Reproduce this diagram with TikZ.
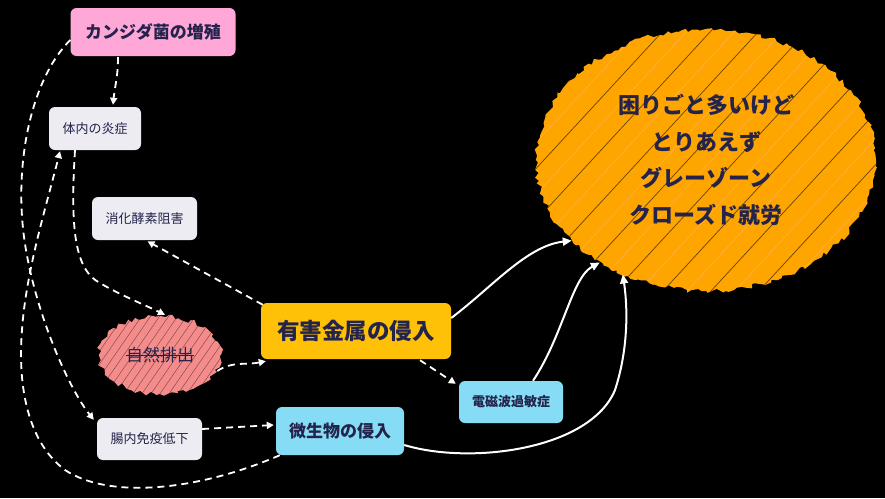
\documentclass[tikz,border=0pt]{standalone}
\usepackage{fontspec}
\setmainfont{Noto Sans CJK JP}
\usetikzlibrary{arrows.meta,shapes.geometric,decorations.pathmorphing,calc}
\definecolor{pinkbox}{RGB}{255,168,216}
\definecolor{greybox}{RGB}{236,236,242}
\definecolor{yellowbox}{RGB}{255,193,7}
\definecolor{bluebox}{RGB}{135,220,245}
\definecolor{orangeblob}{RGB}{255,165,0}
\definecolor{salmonblob}{RGB}{244,140,140}
\definecolor{navytext}{RGB}{35,35,75}
\newcommand\mystrike[1]{\setbox0\hbox{#1}\rlap{\raisebox{0.33em}{\rule{\wd0}{0.8pt}}}\box0}
\begin{document}
\begin{tikzpicture}[x=1pt,y=-1pt,
  box/.style={rounded corners=6pt, inner sep=0pt, align=center, text=navytext},
  pinkb/.style={box, fill=pinkbox},
  greyb/.style={box, fill=greybox},
  yellowb/.style={box, fill=yellowbox},
  blueb/.style={box, fill=bluebox},
  dl/.style={draw=white, line width=1.8pt, dash pattern=on 7pt off 5pt, -{Triangle[length=7pt,width=7pt]}},
  sl/.style={draw=white, line width=2pt, -{Triangle[length=9pt,width=8pt]}},
  blob/.style={ellipse, inner sep=0pt, align=center, text=navytext, decorate,
     decoration={random steps, segment length=4pt, amplitude=2.5pt}}
]
\fill[black] (0,0) rectangle (885,498);
\useasboundingbox (0,0) rectangle (885,498);

% nodes
\node[pinkb, minimum width=165, minimum height=48, font=\fontsize{17}{20}\selectfont\bfseries] (kan) at (153,32) {カンジダ菌の増殖};
\node[greyb, minimum width=92, minimum height=43, font=\fontsize{13}{16}\selectfont] (tin) at (95,128.5) {体内の炎症};
\node[greyb, minimum width=105, minimum height=43, font=\fontsize{13}{16}\selectfont] (sho) at (144.5,218.5) {消化酵素阻害};
\node[yellowb, minimum width=190, minimum height=56, font=\fontsize{22.5}{26}\selectfont\bfseries] (yu) at (356,331) {有害金属の侵入};
\node[blueb, minimum width=104, minimum height=42, font=\fontsize{13}{16}\selectfont\bfseries] (den) at (511,402) {電磁波過敏症};
\node[blueb, minimum width=128, minimum height=48, font=\fontsize{17}{20}\selectfont\bfseries] (bio) at (340,431) {微生物の侵入};
\node[greyb, minimum width=105, minimum height=42, font=\fontsize{13}{16}\selectfont] (cho) at (149.5,439) {腸内免疫低下};
\node[blob, fill=salmonblob, minimum width=122, minimum height=78, font=\fontsize{17}{20}\selectfont,
  path picture={\foreach \i in {-14,...,14} {\draw[black, opacity=0.45, line width=0.5pt]
     ($(path picture bounding box.center)+(\i*9-60,60)$) -- ++(90,-130);}}]
  (shi) at (160,355) {\mystrike{自然排出}};
\node[blob, fill=orangeblob, minimum width=340, minimum height=262, font=\fontsize{22}{36.5}\selectfont\bfseries,
  path picture={\foreach \i in {-9,...,9} {\draw[black, opacity=0.6, line width=0.7pt]
     ($(path picture bounding box.center)+(\i*48-240,240)$) -- ++(480,-520);
     \draw[orange!60!white, opacity=0.7, line width=0.6pt]
     ($(path picture bounding box.center)+(\i*48-216,240)$) -- ++(480,-520);}}]
  (goal) at (706,160) {困りごと多いけど\\とりあえず\\グレーゾーン\\クローズド就労};

% dashed connectors
\draw[dl] ($(kan.south)+(-35,1)$) .. controls +(0,20) and +(2,-20) .. ($(tin.north)+(18,-2)$);
\draw[dl] ($(kan.west)+(0,8)$) .. controls (30,80) and (12,170) .. (26,250)
   .. controls (38,320) and (70,390) .. ($(cho.north west)+(-3,2)$);
\draw[dl] ($(bio.south west)+(4,0)$) .. controls (200,490) and (110,500) .. (65,470)
   .. controls (25,440) and (18,380) .. (22,330)
   .. controls (26,270) and (48,200) .. ($(tin.south)+(-35,1)$);
\draw[dl] ($(tin.south)+(-20,0)$) .. controls (70,230) and (75,270) .. (100,283)
   .. controls (120,295) and (145,305) .. ($(shi.north)+(5,-1)$);
\draw[dl] ($(yu.north west)+(2,2)$) -- ($(sho.south)+(3,1)$);
\draw[dl] ($(shi.east)+(-4,16)$) .. controls +(15,-10) and +(-20,4) .. ($(yu.south west)+(5,2)$);
\draw[dl] ($(yu.south)+(64,1)$) -- ($(den.north west)+(-3,3)$);
\draw[dl] ($(cho.east)+(0,-10)$) -- ($(bio.west)+(-2,-6)$);

% solid connectors
\draw[sl] ($(yu.east)+(0,-13)$) .. controls +(40,-30) and +(-45,5) .. (goal.211);
\draw[sl] ($(den.north)+(22,0)$) .. controls +(30,-45) and +(-28,15) .. (goal.224);
\draw[sl] ($(bio.east)+(0,14)$) .. controls (470,465) and (590,450) .. (615,390)
   .. controls (628,350) and (628,310) .. (goal.234);
\end{tikzpicture}
\end{document}
